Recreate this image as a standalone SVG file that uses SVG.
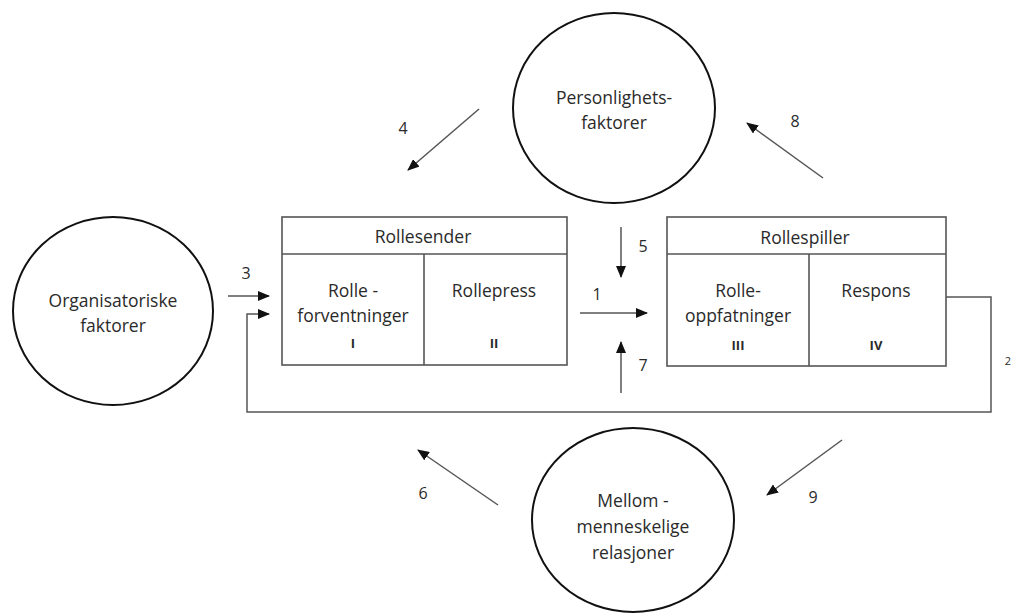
<svg xmlns="http://www.w3.org/2000/svg" width="1014" height="614" viewBox="0 0 1014 614">
<style>
text{font-family:"Open Sans","Liberation Sans",sans-serif;font-size:17.5px;fill:#2a2a2a;text-anchor:middle;dominant-baseline:central}
.circ{fill:#fff;stroke:#111;stroke-width:2}
.box{fill:#fff;stroke:#555;stroke-width:1.6}
.ln{fill:none;stroke:#555;stroke-width:1.5}
.ar{fill:none;stroke:#555;stroke-width:1.5;marker-end:url(#ah)}
.rn{font-size:13px;font-weight:bold}
.num{font-size:16px}
</style>
<defs>
<marker id="ah" markerUnits="userSpaceOnUse" markerWidth="12" markerHeight="10" refX="11" refY="5" orient="auto">
<path d="M0,0 L12,5 L0,10 Z" fill="#111"/>
</marker>
</defs>
<rect width="1014" height="614" fill="#fff"/>
<g id="org">
<ellipse class="circ" cx="113" cy="311" rx="100" ry="94"/>
<text x="113" y="300">Organisatoriske</text>
<text x="113" y="325">faktorer</text>
</g>
<g id="person">
<ellipse class="circ" cx="614" cy="108" rx="101" ry="95"/>
<text x="614" y="97">Personlighets-</text>
<text x="614" y="122">faktorer</text>
</g>
<g id="mellom">
<ellipse class="circ" cx="633" cy="520" rx="101" ry="92"/>
<text x="633" y="500">Mellom -</text>
<text x="633" y="526">menneskelige</text>
<text x="633" y="552">relasjoner</text>
</g>
<g id="rollesender">
<rect class="box" x="282" y="217" width="285" height="148"/>
<line class="box" x1="282" y1="254" x2="567" y2="254"/>
<line class="box" x1="424" y1="254" x2="424" y2="365"/>
<text x="423" y="236">Rollesender</text>
<text x="353" y="290">Rolle -</text>
<text x="353" y="315">forventninger</text>
<text class="rn" x="353" y="343">I</text>
<text x="494" y="290">Rollepress</text>
<text class="rn" x="494" y="343">II</text>
</g>
<g id="rollespiller">
<rect class="box" x="667" y="217" width="279" height="149"/>
<line class="box" x1="667" y1="254" x2="946" y2="254"/>
<line class="box" x1="809" y1="254" x2="809" y2="366"/>
<text x="805" y="237">Rollespiller</text>
<text x="738" y="290">Rolle-</text>
<text x="738" y="315">oppfatninger</text>
<text class="rn" x="738" y="345">III</text>
<text x="876" y="290">Respons</text>
<text class="rn" x="876" y="345">IV</text>
</g>
<g id="connectors">
<path class="ar" d="M228,296 L269,296"/>
<path class="ar" d="M946,297 L991,297 L991,412 L247,412 L247,314 L269,314"/>
<path class="ar" d="M580,313 L647,313"/>
<path class="ar" d="M621,227 L621,277"/>
<path class="ar" d="M621,393 L621,342"/>
<path class="ar" d="M479,109 L408,170"/>
<path class="ar" d="M823,178 L747,123"/>
<path class="ar" d="M498,505 L418,450"/>
<path class="ar" d="M842,440 L767,495"/>
<text class="num" x="246" y="273">3</text>
<text class="num" x="597" y="294">1</text>
<text class="num" x="643" y="246">5</text>
<text class="num" x="643" y="365">7</text>
<text class="num" x="403" y="128">4</text>
<text class="num" x="795" y="121">8</text>
<text class="num" x="423" y="493">6</text>
<text class="num" x="813" y="497">9</text>
<text x="1008" y="360" style="font-size:11px">2</text>
</g>
</svg>
